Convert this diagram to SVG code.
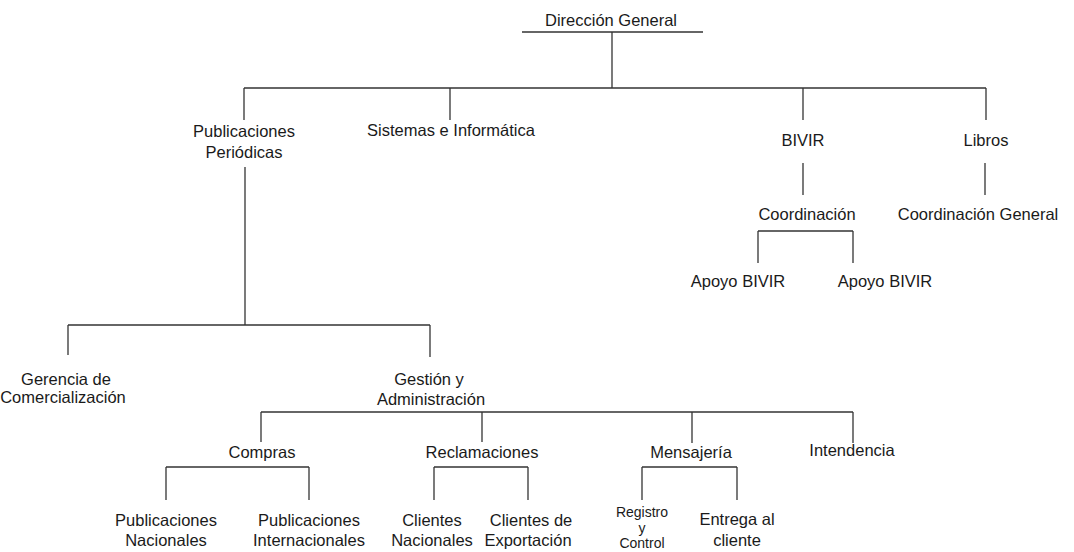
<svg xmlns="http://www.w3.org/2000/svg" width="1074" height="552" viewBox="0 0 1074 552">
<style>
text{font-family:"Liberation Sans",Arial,sans-serif;font-size:16.5px;fill:#1a1a1a;text-anchor:middle}
text.sm{font-size:14px}
.c line{stroke:#333;stroke-width:1.3;fill:none}
</style>
<rect width="1074" height="552" fill="#fff"/>
<g class="c" id="connectors">
<line x1="522" y1="32" x2="703" y2="32"/>
<line x1="612" y1="32" x2="612" y2="88"/>
<line x1="244" y1="88" x2="986" y2="88"/>
<line x1="244" y1="88" x2="244" y2="120"/>
<line x1="450" y1="88" x2="450" y2="120"/>
<line x1="803" y1="88" x2="803" y2="120"/>
<line x1="986" y1="88" x2="986" y2="120"/>
<line x1="803" y1="163" x2="803" y2="195"/>
<line x1="985" y1="163" x2="985" y2="195"/>
<line x1="758" y1="231" x2="853" y2="231"/>
<line x1="758" y1="231" x2="758" y2="263"/>
<line x1="853" y1="231" x2="853" y2="263"/>
<line x1="245" y1="167" x2="245" y2="325"/>
<line x1="68" y1="325" x2="430" y2="325"/>
<line x1="68" y1="325" x2="68" y2="355"/>
<line x1="430" y1="325" x2="430" y2="357"/>
<line x1="261" y1="412" x2="853" y2="412"/>
<line x1="261" y1="412" x2="261" y2="442"/>
<line x1="482" y1="412" x2="482" y2="442"/>
<line x1="692" y1="412" x2="692" y2="443"/>
<line x1="853" y1="412" x2="853" y2="443"/>
<line x1="166" y1="467" x2="309" y2="467"/>
<line x1="166" y1="467" x2="166" y2="500"/>
<line x1="309" y1="467" x2="309" y2="500"/>
<line x1="434" y1="467" x2="528" y2="467"/>
<line x1="434" y1="467" x2="434" y2="500"/>
<line x1="528" y1="467" x2="528" y2="500"/>
<line x1="642" y1="467" x2="737" y2="467"/>
<line x1="642" y1="467" x2="642" y2="500"/>
<line x1="737" y1="467" x2="737" y2="500"/>
</g>
<g id="direccion"><text x="611" y="26">Dirección General</text></g>
<g id="pubper"><text x="244" y="137">Publicaciones</text><text x="244" y="158">Periódicas</text></g>
<g id="sistemas"><text x="451" y="136">Sistemas e Informática</text></g>
<g id="bivir"><text x="803" y="146">BIVIR</text></g>
<g id="libros"><text x="986" y="146">Libros</text></g>
<g id="coord"><text x="807" y="220">Coordinación</text></g>
<g id="coordgen"><text x="978" y="220">Coordinación General</text></g>
<g id="apoyo1"><text x="738" y="287">Apoyo BIVIR</text></g>
<g id="apoyo2"><text x="885" y="287">Apoyo BIVIR</text></g>
<g id="gerencia"><text x="66" y="385">Gerencia de</text><text x="63" y="403">Comercialización</text></g>
<g id="gestion"><text x="429" y="385">Gestión y</text><text x="431" y="405">Administración</text></g>
<g id="compras"><text x="262" y="458">Compras</text></g>
<g id="reclam"><text x="482" y="458">Reclamaciones</text></g>
<g id="mensajeria"><text x="691" y="458">Mensajería</text></g>
<g id="intendencia"><text x="852" y="456">Intendencia</text></g>
<g id="pubnac"><text x="166" y="526">Publicaciones</text><text x="166" y="546">Nacionales</text></g>
<g id="pubint"><text x="309" y="526">Publicaciones</text><text x="309" y="546">Internacionales</text></g>
<g id="clinac"><text x="432" y="526">Clientes</text><text x="432" y="546">Nacionales</text></g>
<g id="cliexp"><text x="531" y="526">Clientes de</text><text x="528" y="546">Exportación</text></g>
<g id="registro"><text class="sm" x="642" y="517">Registro</text><text class="sm" x="642" y="532.5">y</text><text class="sm" x="642" y="548">Control</text></g>
<g id="entrega"><text x="737" y="525">Entrega al</text><text x="737" y="546">cliente</text></g>
</svg>
